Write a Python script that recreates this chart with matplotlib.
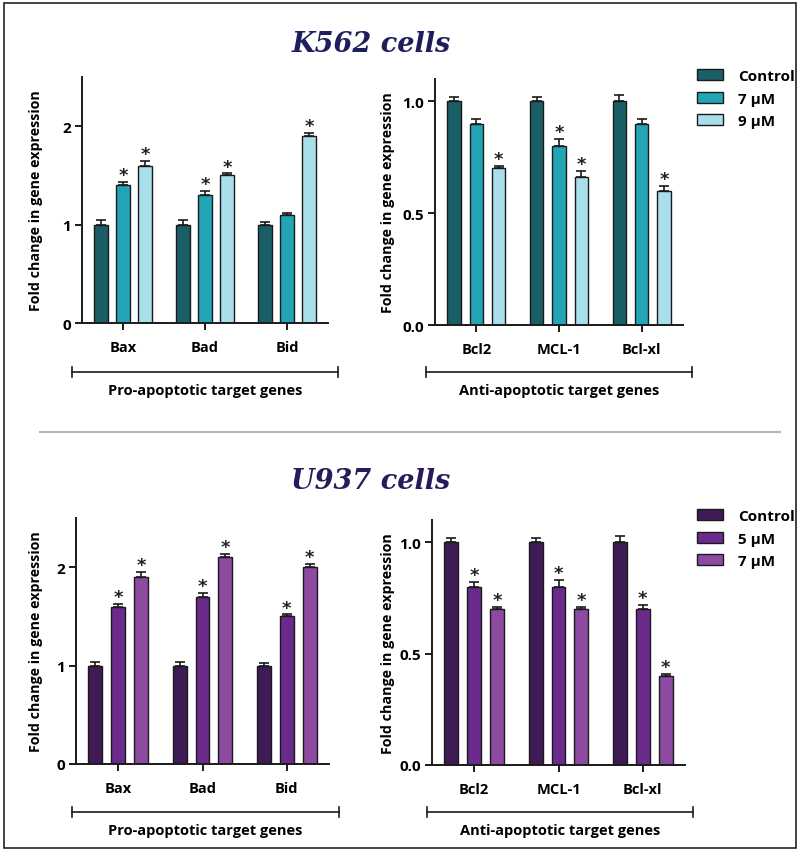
import numpy as np
import matplotlib
matplotlib.use("Agg")
from matplotlib import pyplot as plt
from matplotlib.lines import Line2D
from matplotlib.patches import Rectangle, Patch

plt.rcParams['font.family'] = ['Open Sans', 'DejaVu Sans']
plt.rcParams['font.weight'] = 'bold'

# ---- data ----
pro_genes = ['Bax', 'Bad', 'Bid']
anti_genes = ['Bcl2', 'MCL-1', 'Bcl-xl']

k562_labels = ['Control', '7 μM', '9 μM']
k562_pro = [[1.0, 1.0, 1.0], [1.4, 1.3, 1.1], [1.6, 1.5, 1.9]]
k562_pro_err = [[0.05, 0.05, 0.03], [0.03, 0.04, 0.02], [0.05, 0.02, 0.03]]
k562_pro_sig = [[0, 0, 0], [1, 1, 0], [1, 1, 1]]
k562_anti = [[1.0, 1.0, 1.0], [0.9, 0.8, 0.9], [0.7, 0.66, 0.6]]
k562_anti_err = [[0.02, 0.02, 0.03], [0.02, 0.03, 0.02], [0.01, 0.03, 0.02]]
k562_anti_sig = [[0, 0, 0], [0, 1, 0], [1, 1, 1]]

u937_labels = ['Control', '5 μM', '7 μM']
u937_pro = [[1.0, 1.0, 1.0], [1.6, 1.7, 1.5], [1.9, 2.1, 2.0]]
u937_pro_err = [[0.04, 0.04, 0.03], [0.03, 0.04, 0.02], [0.05, 0.03, 0.03]]
u937_pro_sig = [[0, 0, 0], [1, 1, 1], [1, 1, 1]]
u937_anti = [[1.0, 1.0, 1.0], [0.8, 0.8, 0.7], [0.7, 0.7, 0.4]]
u937_anti_err = [[0.02, 0.02, 0.03], [0.02, 0.03, 0.02], [0.01, 0.01, 0.01]]
u937_anti_sig = [[0, 0, 0], [1, 1, 1], [1, 1, 1]]

k562_colors = ['#1b5f66', '#22a6b6', '#a9dfea']
u937_colors = ['#3f1b55', '#6a2b8c', '#8c4aa0']

W, H = 800, 853
fig = plt.figure(figsize=(W / 100, H / 100), dpi=100)


def fx(px):
    return px / W


def fy(py):
    return 1 - py / H


def panel(rect, genes, vals, errs, sigs, colors, ylim, yticks, yfmt, labx):
    ax = fig.add_axes(rect)
    x = np.arange(len(genes))
    w = 0.165
    off = 0.27
    for i in range(3):
        xs = x + (i - 1) * off
        v = np.array(vals[i])
        e = np.array(errs[i])
        ax.bar(xs, v, width=w, color=colors[i], edgecolor='#1a1a1a',
               linewidth=1.0, zorder=2)
        ax.errorbar(xs, v, yerr=[np.zeros_like(e), e], fmt='none',
                    ecolor='#1a1a1a', elinewidth=1.2, capsize=3.5,
                    capthick=1.2, zorder=1)
        for j in range(len(genes)):
            if sigs[i][j]:
                ax.annotate('*', (xs[j], v[j] + e[j]), xytext=(0, -1.5),
                            textcoords='offset points', ha='center',
                            va='bottom', fontsize=13, fontweight='bold',
                            family='DejaVu Sans', color='#222222')
    ax.set_xlim(-0.5, 2.5)
    ax.set_ylim(*ylim)
    ax.set_xticks(x)
    ax.set_xticklabels(genes, fontsize=10.5, fontweight='bold')
    ax.set_yticks(yticks)
    ax.set_yticklabels([yfmt.format(t) for t in yticks], fontsize=11,
                       fontweight='bold')
    ax.set_ylabel('Fold change in gene expression', fontsize=10.3,
                  fontweight='bold')
    ax.yaxis.set_label_coords(labx, 0.5)
    for s in ['top', 'right']:
        ax.spines[s].set_visible(False)
    for s in ['left', 'bottom']:
        ax.spines[s].set_linewidth(1.4)
        ax.spines[s].set_color('#1a1a1a')
    ax.tick_params(axis='both', direction='out', length=5, width=1.4,
                   color='#1a1a1a', pad=3)
    ax.tick_params(axis='x', pad=7)
    return ax


def bracket(x0, x1, y, label):
    fig.add_artist(Line2D([fx(x0), fx(x1)], [fy(y), fy(y)], color='#1a1a1a',
                          lw=1.2))
    for xx in (x0, x1):
        fig.add_artist(Line2D([fx(xx), fx(xx)], [fy(y - 5), fy(y + 5)],
                              color='#1a1a1a', lw=1.2))
    fig.text(fx((x0 + x1) / 2), fy(y + 18), label, ha='center', va='center',
             fontsize=10.5, fontweight='bold')


# top row: K562
panel([fx(82), fy(324), fx(328 - 82), (324 - 78) / H], pro_genes, k562_pro,
      k562_pro_err, k562_pro_sig, k562_colors, (0, 2.5), [0, 1, 2], '{:g}',
      -0.159)
panel([fx(435), fy(326), fx(683 - 435), (326 - 80) / H], anti_genes, k562_anti,
      k562_anti_err, k562_anti_sig, k562_colors, (0, 1.1), [0, 0.5, 1.0],
      '{:.1f}', -0.161)
# bottom row: U937
panel([fx(76), fy(765), fx(329 - 76), (765 - 519) / H], pro_genes, u937_pro,
      u937_pro_err, u937_pro_sig, u937_colors, (0, 2.5), [0, 1, 2], '{:g}',
      -0.130)
panel([fx(432), fy(766), fx(685 - 432), (766 - 521) / H], anti_genes, u937_anti,
      u937_anti_err, u937_anti_sig, u937_colors, (0, 1.1), [0, 0.5, 1.0],
      '{:.1f}', -0.146)

bracket(72, 338, 373, 'Pro-apoptotic target genes')
bracket(426, 692, 373, 'Anti-apoptotic target genes')
bracket(72, 339, 813, 'Pro-apoptotic target genes')
bracket(427, 693, 813, 'Anti-apoptotic target genes')

# titles
fig.text(fx(371), fy(44), 'K562 cells', ha='center', va='center',
         family='DejaVu Serif', style='italic', fontweight='bold',
         fontsize=19.5, color='#1e1e5c')
fig.text(fx(371), fy(482), 'U937 cells', ha='center', va='center',
         family='DejaVu Serif', style='italic', fontweight='bold',
         fontsize=19.5, color='#2a1a5a')

# legends
for labels, colors, ytop in [(k562_labels, k562_colors, 64),
                             (u937_labels, u937_colors, 504)]:
    handles = [Patch(facecolor=c, edgecolor='#1a1a1a', linewidth=1.0)
               for c in colors]
    fig.legend(handles, labels, loc='upper left',
               bbox_to_anchor=(fx(691), fy(ytop)), frameon=False,
               prop={'size': 11, 'weight': 'bold'}, handlelength=1.7,
               handleheight=0.75, labelspacing=0.55, handletextpad=1.0,
               borderaxespad=0)

# separator and border
fig.add_artist(Line2D([fx(40), fx(780)], [fy(433), fy(433)], color='#b5b5b5',
                      lw=1.5))
fig.add_artist(Rectangle((fx(4), fy(849)), fx(792), 845 / H, fill=False,
                         edgecolor='#222222', lw=1.2,
                         transform=fig.transFigure))

fig.savefig('out.png', dpi=100)
